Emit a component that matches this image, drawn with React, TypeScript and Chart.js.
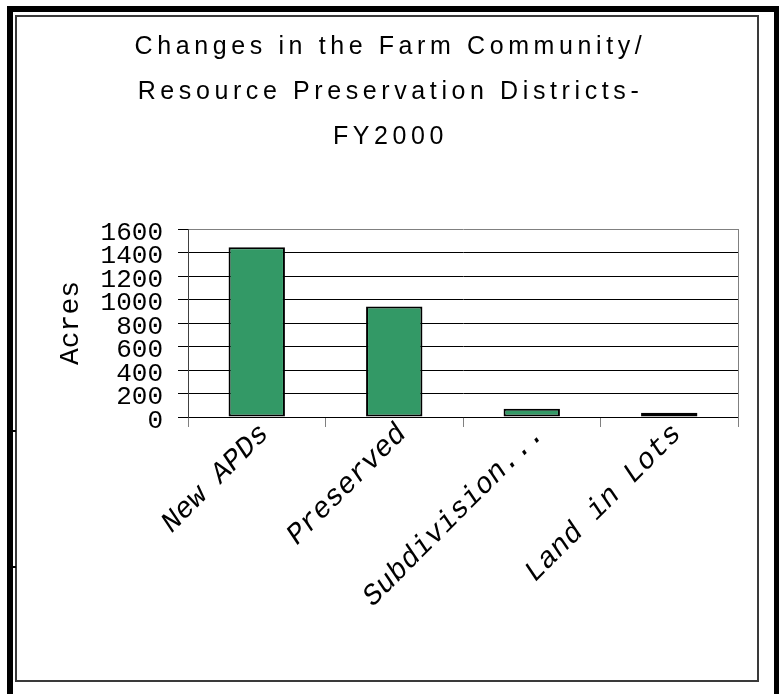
import React, { useEffect, useRef } from 'react';
import { Chart, registerables } from 'chart.js';

Chart.register(...registerables);

const categories: string[] = ['New APDs', 'Preserved', 'Subdivision...', 'Land in Lots'];
const acres: number[] = [1445, 940, 71, 37];
const titleLines: string[] = ['Changes in the Farm Community/', 'Resource Preservation Districts-', 'FY2000'];
const yAxisTitle = 'Acres';
const yTickValues: number[] = [0, 200, 400, 600, 800, 1000, 1200, 1400, 1600];
const yTickLabels: string[] = ['0', '200', '400', '600', '800', '1000', '1200', '1400', '1600'];

const W = 781;
const H = 694;

export default function App() {
  const ref = useRef<HTMLCanvasElement>(null);

  useEffect(() => {
    const titleSpacing = {
      id: 'titleSpacing',
      afterInit(chart: any) {
        const tb = chart.titleBlock;
        if (!tb) return;
        const orig = tb.draw.bind(tb);
        tb.draw = (...args: any[]) => {
          const ctx: any = chart.ctx;
          ctx.letterSpacing = '4.6px';
          orig(...args);
          ctx.letterSpacing = '0px';
        };
      },
    };

    const yMax = yTickValues[yTickValues.length - 1];

    const chart = new Chart(ref.current as HTMLCanvasElement, {
      type: 'bar',
      data: {
        labels: categories,
        datasets: [
          {
            data: acres,
            backgroundColor: '#339966',
            borderColor: '#000000',
            borderWidth: 2,
            borderSkipped: false,
            barPercentage: 0.41,
            categoryPercentage: 1,
            yAxisID: 'y',
          } as any,
        ],
      },
      options: {
        animation: false,
        responsive: false,
        events: [],
        layout: { padding: 0 },
        plugins: {
          legend: { display: false },
          tooltip: { enabled: false },
          title: {
            display: true,
            text: titleLines,
            color: '#000000',
            font: { family: 'Liberation Sans', size: 25, weight: 'normal', lineHeight: 1.8 },
            padding: { top: 25, bottom: 69 },
          },
        },
        scales: {
          x: {
            type: 'category',
            offset: true,
            grid: {
              display: true,
              drawOnChartArea: false,
              drawTicks: true,
              tickLength: 10,
              color: '#808080',
              offset: true,
            },
            border: { display: true, color: '#000000', width: 1 },
            ticks: {
              color: '#000000',
              font: { family: 'Liberation Mono', size: 29, style: 'italic' },
              minRotation: 45,
              maxRotation: 45,
              autoSkip: false,
              padding: -10,
              labelOffset: 8,
            },
            afterFit: (s: any) => {
              s.height = H - 417;
            },
          },
          y: {
            type: 'linear',
            position: 'left',
            min: yTickValues[0],
            max: yMax,
            grid: {
              color: (c: any) => (c.tick && c.tick.value === yMax ? '#808080' : '#000000'),
              tickColor: '#000000',
              tickLength: 10,
              drawTicks: true,
              lineWidth: 1,
            },
            border: { display: true, color: '#404040', width: 1 },
            afterBuildTicks: (s: any) => {
              s.ticks = yTickValues.map((v) => ({ value: v }));
            },
            ticks: {
              autoSkip: false,
              color: '#000000',
              font: { family: 'Liberation Mono', size: 26 },
              padding: 15,
              labelOffset: 4,
              callback: (v: any) => {
                const i = yTickValues.indexOf(Number(v));
                return i >= 0 ? yTickLabels[i] : '';
              },
            },
            title: {
              display: true,
              text: yAxisTitle,
              color: '#000000',
              font: { family: 'Liberation Mono', size: 28, lineHeight: 1.2 },
              padding: { top: 54, bottom: 0 },
            },
            afterFit: (s: any) => {
              s.width = 188;
            },
          },
          y2: {
            type: 'linear',
            position: 'right',
            display: true,
            grid: { display: false, drawOnChartArea: false, drawTicks: false },
            ticks: { display: false },
            border: { display: true, color: '#808080', width: 1 },
            afterFit: (s: any) => {
              s.width = W - 738;
            },
          },
        },
      } as any,
      plugins: [titleSpacing as any],
    });

    return () => chart.destroy();
  }, []);

  return (
    <div style={{ position: 'fixed', left: 0, top: 0, width: W, height: H, background: '#ffffff', overflow: 'hidden' }}>
      <div
        style={{
          position: 'absolute',
          left: 7,
          top: 6,
          width: 772,
          height: 720,
          boxSizing: 'border-box',
          borderLeft: '6px solid #000',
          borderTop: '6px solid #000',
          borderRight: '5px solid #000',
        }}
      />
      <div
        style={{
          position: 'absolute',
          left: 15,
          top: 15,
          width: 744,
          height: 667,
          boxSizing: 'border-box',
          border: '2px solid #3a3a3a',
        }}
      />
      <div style={{ position: 'absolute', left: 12, top: 430, width: 4, height: 2, background: '#000' }} />
      <div style={{ position: 'absolute', left: 12, top: 566, width: 4, height: 2, background: '#000' }} />
      <canvas ref={ref} width={W} height={H} style={{ position: 'absolute', left: 0, top: 0, width: W, height: H }} />
    </div>
  );
}
